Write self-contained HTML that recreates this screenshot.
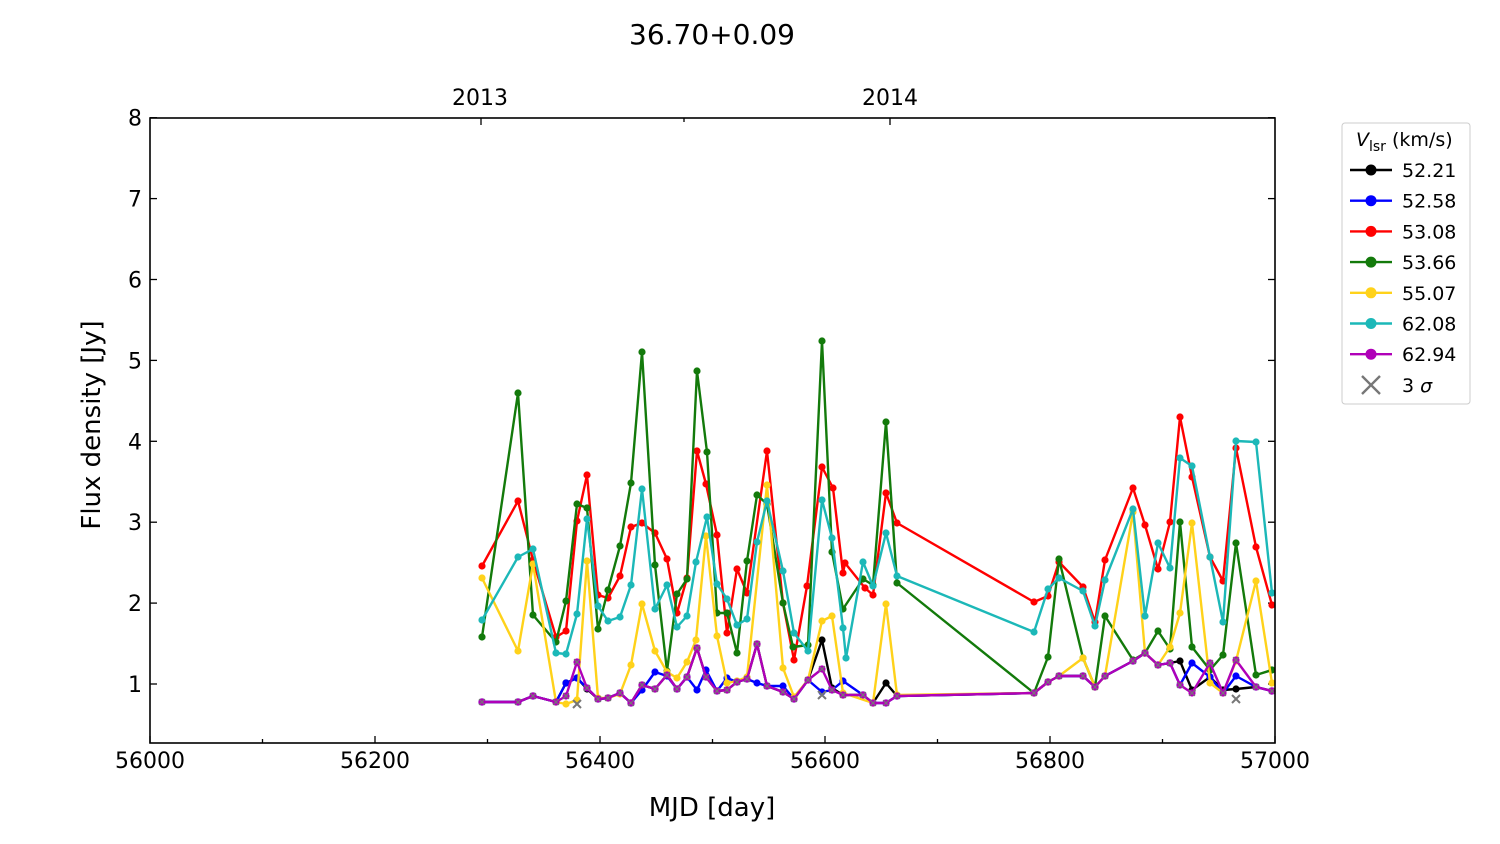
<!DOCTYPE html>
<html><head><meta charset="utf-8"><style>
body{margin:0;background:#fff;}
svg{display:block;font-family:"DejaVu Sans","Liberation Sans",sans-serif;}
</style></head><body>
<svg id="s" width="1500" height="844" viewBox="0 0 1500 844" xmlns="http://www.w3.org/2000/svg">
<rect width="1500" height="844" fill="#fff"/>
<text x="712" y="44" font-size="28" text-anchor="middle">36.70+0.09</text>
<text x="480" y="105" font-size="22" text-anchor="middle">2013</text>
<text x="890" y="105" font-size="22" text-anchor="middle">2014</text>
<text x="712" y="816" font-size="26" text-anchor="middle">MJD [day]</text>
<text transform="translate(100,425) rotate(-90)" font-size="26" text-anchor="middle">Flux density [Jy]</text>
<g id="ticks" stroke="#000" stroke-width="1.3"></g>
<g id="labels" font-size="22"></g>
<g id="data"></g>
<rect x="150" y="118" width="1125" height="625" fill="none" stroke="#000" stroke-width="1.6"/>
<g id="legend"></g>
</svg>
<script>
var NS="http://www.w3.org/2000/svg";
function el(p,t,a,txt){var e=document.createElementNS(NS,t);for(var k in a)e.setAttribute(k,a[k]);if(txt!==undefined)e.textContent=txt;p.appendChild(e);return e;}
var tk=document.getElementById('ticks'),lb=document.getElementById('labels');
for(var i=0;i<=10;i++){var x=150+i*112.5;var L=(i%2==0)?7:4;
 el(tk,'line',{x1:x,y1:743,x2:x,y2:743-L});
 if(i%2==0)el(lb,'text',{x:x,y:768,'text-anchor':'middle'},String(56000+i*100));}
[481,684,890].forEach(function(x){el(tk,'line',{x1:x,y1:118,x2:x,y2:118+(x==684?4:7)});});
for(var v=1;v<=8;v++){var y=684-(v-1)*80.9;
 el(tk,'line',{x1:150,y1:y,x2:157,y2:y});el(tk,'line',{x1:1275,y1:y,x2:1268,y2:y});
 el(lb,'text',{x:142,y:y+8,'text-anchor':'end'},String(v));}
var D=document.getElementById('data');
function ser(col,pts){var s=pts.map(function(p){return p.join(',')}).join(' ');
 el(D,'polyline',{points:s,fill:'none',stroke:col,'stroke-width':2.4,'stroke-linejoin':'round'});
 pts.forEach(function(p){el(D,'circle',{cx:p[0],cy:p[1],r:3.6,fill:col});});}
var base=[[482,702],[518,702],[533,696],[556,702],[566,696],[577,662],[587,688],[598,699],[608,698],[620,693],[631,703],[642,685],[655,689],[667,675],[677,689],[687,677],[697,648],[706,677],[717,691],[727,690],[737,682],[747,679],[757,644],[767,686],[783,692],[794,699],[808,680],[822,669],[832,690],[843,695],[863,695],[873,703],[886,703],[897,696],[1034,693],[1048,682],[1059,676],[1083,676],[1095,687],[1105,676],[1133,661],[1145,653],[1158,665],[1170,663],[1180,685],[1192,693],[1210,663],[1223,693],[1236,660],[1256,687],[1272,691]];
function mod(ch){return base.map(function(p){return ch[p[0]]!==undefined?[p[0],ch[p[0]]]:p;});}
ser('#000',mod({566:683,577:678,587:689,822:640,832:688,886:683,1180:661,1192:690,1210:677,1223:690,1236:689,1256:687}));
ser('#0000ff',mod({566:683,577:678,642:690,655:672,667:676,697:690,706:670,727:678,757:683,767:686,783:686,822:692,843:681,1180:685,1192:663,1210:677,1236:676}));
ser('#ff0000',[[482,566],[518,501],[533,560],[556,637],[566,631],[577,521],[587,475],[598,595],[608,598],[620,576],[631,527],[642,523],[655,533],[667,559],[677,613],[687,578],[697,451],[706,484],[717,535],[727,633],[737,569],[747,593],[767,451],[783,603],[794,660],[807,586],[822,467],[833,488],[843,573],[845,563],[865,588],[873,595],[886,493],[897,523],[1034,602],[1048,596],[1059,562],[1083,587],[1095,622],[1105,560],[1133,488],[1145,525],[1158,569],[1170,522],[1180,417],[1192,477],[1210,557],[1223,581],[1236,448],[1256,547],[1272,605]]);
ser('#137a0b',[[482,637],[518,393],[533,615],[556,642],[566,601],[577,504],[587,508],[598,629],[608,590],[620,546],[631,483],[642,352],[655,565],[667,671],[677,594],[687,579],[697,371],[707,452],[717,613],[727,613],[737,653],[747,561],[757,495],[767,504],[783,603],[793,647],[808,645],[822,341],[832,552],[843,609],[863,579],[873,585],[886,422],[897,583],[1034,693],[1048,657],[1059,559],[1083,658],[1095,687],[1105,616],[1133,660],[1145,653],[1158,631],[1170,649],[1180,522],[1192,647],[1210,670],[1223,655],[1236,543],[1256,675],[1272,670]]);
ser('#ffd21a',[[482,578],[518,651],[533,564],[556,702],[566,704],[577,700],[587,561],[598,698],[608,698],[620,694],[631,665],[642,604],[655,651],[667,672],[677,678],[687,662],[696,640],[706,536],[717,636],[727,683],[737,681],[747,677],[767,485],[783,668],[794,697],[808,680],[822,621],[832,616],[843,693],[873,703],[886,604],[897,695],[1034,693],[1048,682],[1059,676],[1083,658],[1095,687],[1105,676],[1133,512],[1145,653],[1158,665],[1170,647],[1180,613],[1192,523],[1210,683],[1223,693],[1236,661],[1256,581],[1272,683]]);
ser('#1cb8b8',[[482,620],[518,557],[533,549],[556,653],[566,654],[577,614],[587,519],[598,606],[608,621],[620,617],[631,585],[642,489],[655,609],[667,585],[677,627],[687,616],[696,562],[707,517],[717,584],[727,599],[737,625],[747,619],[757,542],[767,501],[783,571],[794,633],[808,651],[822,500],[832,538],[843,628],[846,658],[863,562],[873,586],[886,533],[897,576],[1034,632],[1048,589],[1059,578],[1083,591],[1095,626],[1105,580],[1133,509],[1145,616],[1158,543],[1170,568],[1180,458],[1192,466],[1210,557],[1223,622],[1236,441],[1256,442],[1272,593]]);
ser('#b000b8',base);
base.forEach(function(p){el(D,'path',{d:'M'+(p[0]-3)+','+(p[1]-3)+'l6,6m0,-6l-6,6',stroke:'#777','stroke-width':1.2});});
[[822,695],[1236,699],[577,704]].forEach(function(p){el(D,'path',{d:'M'+(p[0]-4)+','+(p[1]-4)+'l8,8m0,-8l-8,8',stroke:'#777','stroke-width':2});});
var G=document.getElementById('legend');
el(G,'rect',{x:1342,y:123,width:128,height:281,rx:3,fill:'#fff',stroke:'#ccc','stroke-width':1});
var t=el(G,'text',{x:1356,y:146,'font-size':19});
t.innerHTML='<tspan font-style="italic">V</tspan><tspan font-size="14" dy="5">lsr</tspan><tspan dy="-5"> (km/s)</tspan>';
var L=[['#000','52.21'],['#0000ff','52.58'],['#ff0000','53.08'],['#137a0b','53.66'],['#ffd21a','55.07'],['#1cb8b8','62.08'],['#b000b8','62.94']];
L.forEach(function(l,i){var y=170+i*30.7;
 el(G,'line',{x1:1350,y1:y,x2:1392,y2:y,stroke:l[0],'stroke-width':2.4});
 el(G,'circle',{cx:1371,cy:y,r:5.5,fill:l[0]});
 el(G,'text',{x:1402,y:y+7,'font-size':19},l[1]);});
var y=385;el(G,'path',{d:'M1362,376l18,18m0,-18l-18,18',stroke:'#777','stroke-width':2.4});
var t2=el(G,'text',{x:1402,y:y+7,'font-size':19});t2.innerHTML='3 <tspan font-style="italic">σ</tspan>';
</script>
</body></html>
